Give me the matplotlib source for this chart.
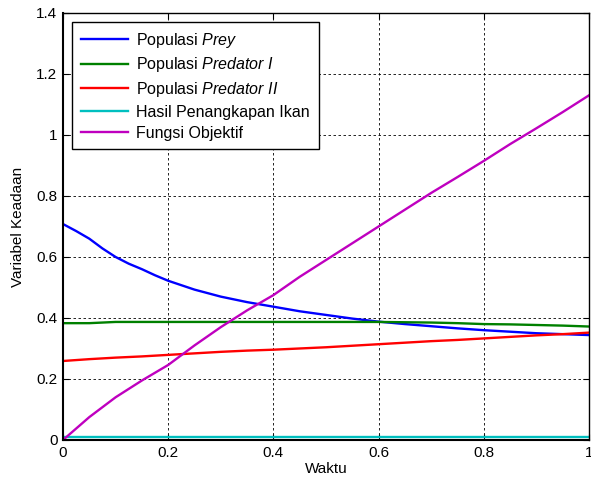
import numpy as np
import matplotlib
matplotlib.use('Agg')
import matplotlib.pyplot as plt

plt.rcParams['font.family'] = 'Liberation Sans'
plt.rcParams['mathtext.fontset'] = 'custom'
plt.rcParams['mathtext.it'] = 'Liberation Sans:italic'
plt.rcParams['mathtext.rm'] = 'Liberation Sans'

# state variables over time
waktu = np.linspace(0, 1, 21)
waktu_prey = [0.0, 0.025, 0.05, 0.075, 0.1, 0.125, 0.15, 0.175, 0.2, 0.25, 0.3, 0.35, 0.4,
              0.45, 0.5, 0.55, 0.6, 0.65, 0.7, 0.75, 0.8, 0.85, 0.9, 0.95, 1.0]
prey = [0.708, 0.685, 0.660, 0.628, 0.600, 0.578, 0.560, 0.540, 0.522, 0.493, 0.470, 0.452,
        0.437, 0.422, 0.410, 0.398, 0.388, 0.380, 0.373, 0.366, 0.360, 0.355, 0.350, 0.347, 0.344]
predator1 = [0.383, 0.383, 0.387, 0.387, 0.387, 0.387, 0.387, 0.387, 0.387, 0.387, 0.387,
             0.387, 0.387, 0.386, 0.385, 0.383, 0.380, 0.379, 0.377, 0.375, 0.372]
predator2 = [0.259, 0.265, 0.270, 0.274, 0.279, 0.284, 0.289, 0.293, 0.296, 0.300, 0.304,
             0.309, 0.314, 0.319, 0.324, 0.328, 0.333, 0.338, 0.343, 0.347, 0.352]
tangkapan = [0.010] * 21
objektif = [0.0, 0.075, 0.140, 0.195, 0.246, 0.310, 0.370, 0.425, 0.475, 0.535, 0.590,
            0.645, 0.700, 0.755, 0.810, 0.862, 0.915, 0.970, 1.022, 1.075, 1.130]

labels = [r"Populasi $\it{Prey}$", r"Populasi $\it{Predator\ I}$",
          r"Populasi $\it{Predator\ II}$", "Hasil Penangkapan Ikan", "Fungsi Objektif"]

fig = plt.figure(figsize=(5.91, 4.88), dpi=100)
ax = fig.add_axes([0.1066, 0.0984, 0.89, 0.875])

ax.plot(waktu_prey, prey, color=(0, 0, 1), lw=1.7)
ax.plot(waktu, predator1, color=(0, 0.5, 0), lw=1.7)
ax.plot(waktu, predator2, color=(1, 0, 0), lw=1.7)
ax.plot(waktu, tangkapan, color=(0, 0.75, 0.75), lw=1.7)
ax.plot(waktu, objektif, color=(0.75, 0, 0.75), lw=1.7)

ax.set_xlim(0, 1)
ax.set_ylim(0, 1.4)
ax.set_xticks(np.arange(0, 1.01, 0.2))
ax.set_yticks(np.arange(0, 1.41, 0.2))
ax.set_xticklabels(['0', '0.2', '0.4', '0.6', '0.8', '1'])
ax.set_yticklabels(['0', '0.2', '0.4', '0.6', '0.8', '1', '1.2', '1.4'])
ax.tick_params(direction='in', top=True, right=True, labelsize=11, length=4, pad=4)
ax.grid(True, color='black', linestyle=(0, (3, 3)), linewidth=0.6)
for s in ax.spines.values():
    s.set_linewidth(1.0)
ax.spines['left'].set_linewidth(1.5)
ax.spines['bottom'].set_linewidth(1.5)

ax.set_xlabel('Waktu', fontsize=11, labelpad=2)
ax.set_ylabel('Variabel Keadaan', fontsize=11, labelpad=8)

leg = ax.legend(labels, loc='upper left', fontsize=11.5, fancybox=False, framealpha=1,
                edgecolor='black', handlelength=3.0, borderaxespad=0.55,
                labelspacing=0.36, handletextpad=0.5, borderpad=0.55)
leg.get_frame().set_linewidth(1.0)

fig.savefig('out.png', dpi=100)
